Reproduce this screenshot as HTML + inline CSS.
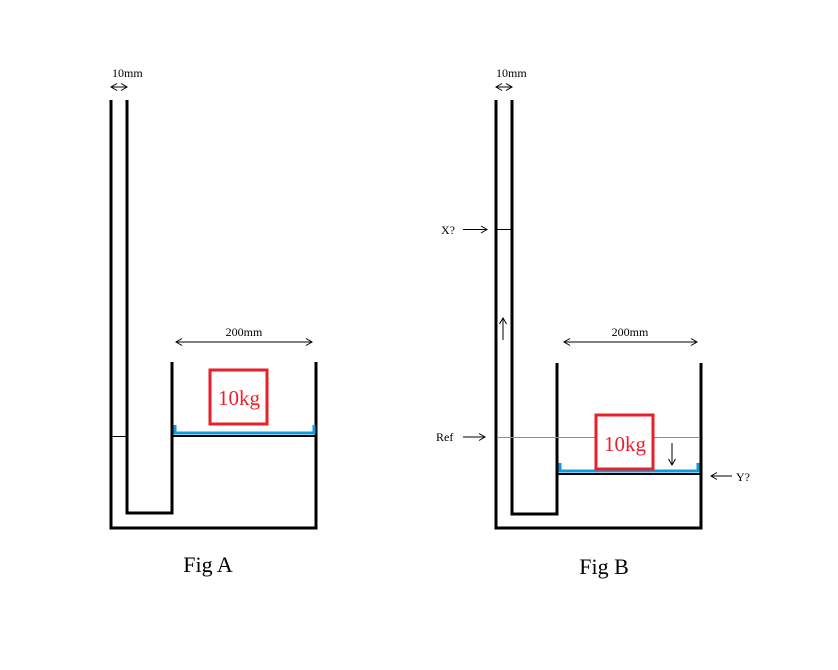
<!DOCTYPE html>
<html><head><meta charset="utf-8"><style>
html,body{margin:0;padding:0;background:#fff;}
svg{display:block;}
text{font-family:"Liberation Serif",serif;}
</style></head><body>
<svg width="838" height="670" viewBox="0 0 838 670" xmlns="http://www.w3.org/2000/svg">
<defs>
<marker id="ah" markerWidth="8" markerHeight="8" refX="7" refY="4" orient="auto-start-reverse" markerUnits="userSpaceOnUse">
<path d="M1,0.5 L7,4 L1,7.5" fill="none" stroke="#000" stroke-width="1"/>
</marker>
</defs>
<g fill="none" stroke="#000" stroke-width="3">
<!-- Fig A -->
<polyline points="111,100 111,528 316,528 316,362"/>
<polyline points="127,100 127,513 172,513 172,362"/>
<!-- Fig B -->
<polyline points="496,100 496,528 701,528 701,363"/>
<polyline points="512,100 512,514 557,514 557,363"/>
</g>
<!-- Fig A details -->
<line x1="112" y1="436.5" x2="126" y2="436.5" stroke="#000" stroke-width="1"/>
<line x1="173" y1="436" x2="315" y2="436" stroke="#000" stroke-width="2"/>
<polyline points="175,425 175,433 314,433 314,425" fill="none" stroke="#0a9ee0" stroke-width="3"/>
<rect x="210" y="370" width="57" height="54" fill="none" stroke="#e8202a" stroke-width="3"/>
<text x="239" y="405" font-size="21" fill="#e8202a" text-anchor="middle">10kg</text>
<line x1="111" y1="87" x2="127" y2="87" stroke="#000" stroke-width="1" marker-start="url(#ah)" marker-end="url(#ah)"/>
<text x="112" y="77" font-size="12">10mm</text>
<line x1="176" y1="342" x2="312" y2="342" stroke="#000" stroke-width="1" marker-start="url(#ah)" marker-end="url(#ah)"/>
<text x="244" y="336" font-size="12" text-anchor="middle">200mm</text>
<text x="208" y="572" font-size="22" text-anchor="middle">Fig A</text>
<!-- Fig B details -->
<line x1="497" y1="437.5" x2="700" y2="437.5" stroke="#b08080" stroke-width="1"/>
<line x1="497" y1="229.5" x2="511" y2="229.5" stroke="#000" stroke-width="1"/>
<line x1="558" y1="474" x2="700" y2="474" stroke="#000" stroke-width="2"/>
<polyline points="560,463 560,471 698,471 698,463" fill="none" stroke="#0a9ee0" stroke-width="3"/>
<rect x="596" y="415" width="57" height="54" fill="#fff" stroke="#e8202a" stroke-width="3"/>
<text x="625" y="451" font-size="21" fill="#e8202a" text-anchor="middle">10kg</text>
<line x1="496" y1="87" x2="512" y2="87" stroke="#000" stroke-width="1" marker-start="url(#ah)" marker-end="url(#ah)"/>
<text x="496" y="77" font-size="12">10mm</text>
<line x1="564" y1="342" x2="697" y2="342" stroke="#000" stroke-width="1" marker-start="url(#ah)" marker-end="url(#ah)"/>
<text x="630" y="336" font-size="12" text-anchor="middle">200mm</text>
<line x1="503" y1="340" x2="503" y2="318" stroke="#000" stroke-width="1" marker-end="url(#ah)"/>
<line x1="672" y1="443" x2="672" y2="465" stroke="#000" stroke-width="1" marker-end="url(#ah)"/>
<text x="441" y="234" font-size="12">X?</text>
<line x1="463" y1="229.5" x2="487" y2="229.5" stroke="#000" stroke-width="1" marker-end="url(#ah)"/>
<text x="436" y="441" font-size="12">Ref</text>
<line x1="463" y1="437" x2="485" y2="437" stroke="#000" stroke-width="1" marker-end="url(#ah)"/>
<line x1="732" y1="476" x2="711" y2="476" stroke="#000" stroke-width="1" marker-end="url(#ah)"/>
<text x="736" y="481" font-size="12">Y?</text>
<text x="604" y="574" font-size="22" text-anchor="middle">Fig B</text>
</svg>
</body></html>
